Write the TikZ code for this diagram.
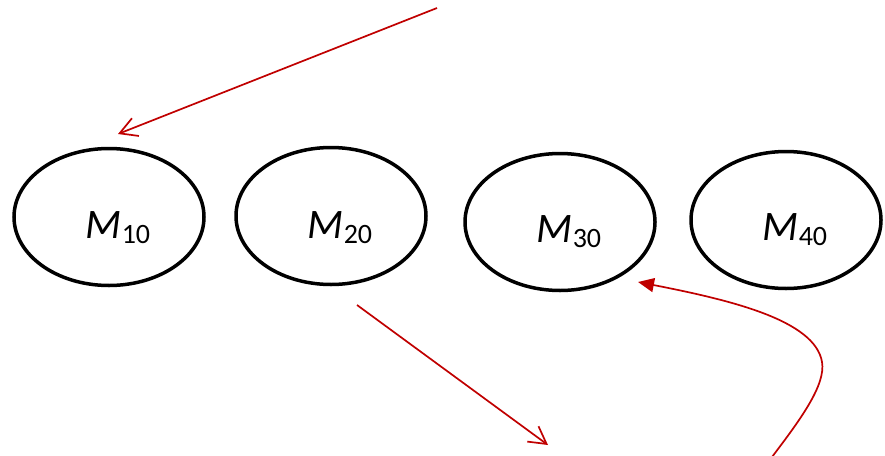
\documentclass[tikz,border=0pt]{standalone}
\usepackage{fontspec}
\setmainfont{Carlito}
\usetikzlibrary{shapes.geometric,arrows.meta}
\definecolor{arrred}{HTML}{C00000}
\newcommand{\mlabel}[1]{{\fontsize{42}{42}\selectfont\itshape M}\raisebox{-5pt}{\fontsize{28}{28}\selectfont #1}}
\begin{document}
\begin{tikzpicture}[x=1pt,y=-1pt,
  oval/.style={ellipse,draw=black,line width=3.5pt,minimum width=190pt,minimum height=137pt,inner sep=0pt},
  lbl/.style={inner sep=0pt,anchor=center},
  redline/.style={draw=arrred,line width=1.7pt},
  barb/.style={redline,-{Straight Barb[length=17pt,width=19pt,line width=1.7pt]}},
  tri/.style={redline,-{Triangle[length=16pt,width=14pt]}}]
\useasboundingbox (0,0) rectangle (885,455);
\node[oval] (m1) at (109,217) {};
\node[oval] (m2) at (331,216) {};
\node[oval] (m3) at (560,222) {};
\node[oval] (m4) at (786,220) {};
\node[lbl] (t1) at (118,228) {\mlabel{10}};
\node[lbl] (t2) at (340,228) {\mlabel{20}};
\node[lbl] (t3) at (569,232) {\mlabel{30}};
\node[lbl] (t4) at (795,230) {\mlabel{40}};
\coordinate (a1s) at (437,8);
\coordinate (a1e) at (118,134);
\coordinate (a2s) at (357,305);
\coordinate (a2e) at (548,445);
\coordinate (a3s) at (772,457);
\coordinate (a3m) at (822,362);
\coordinate (a3e) at (638,282);
\draw[barb] (a1s) -- (a1e);
\draw[barb] (a2s) -- (a2e);
\draw[tri] (a3s) .. controls (800,420) and (826,385) .. (a3m)
  .. controls (815,320) and (730,300) .. (a3e);
\end{tikzpicture}
\end{document}
